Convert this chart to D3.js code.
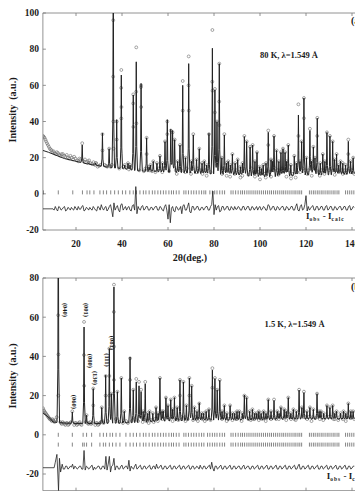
<!DOCTYPE html>
<html><head><meta charset="utf-8">
<script src="https://cdn.jsdelivr.net/npm/d3@7"></script>
<style>
body{margin:0;background:#fff;}
svg{display:block;}
text{font-family:"Liberation Serif","DejaVu Serif",serif;font-weight:bold;fill:#1a1a1a;}
</style>
</head><body><svg id="c" width="355" height="491"></svg>
<script>
// ---------------- DATA ----------------
const xTickVals = [20, 40, 60, 80, 100, 120, 140];
const yTicksTop = [-20, 0, 20, 40, 60, 80, 100];
const yTicksBot = [-20, 0, 20, 40, 60, 80];

// (a) 80 K : calculated background [2θ, I]
const bgTop = [[5.6,24],[8,23],[10,22],[15,19.5],[20,18],[25,16.5],[30,15.5],[35,14.5],[40,14],[45,13],[50,12.5],[60,12],[70,11.5],[80,11],[90,10.5],[100,9.5],[110,9.5],[120,10.5],[130,10.5],[141,11]];
// (a) peaks [2θ, I calc, I obs]
const peaksTop = [[22.7,27,28],[25.5,17,17],[28.5,17,17],[31.5,33.5,33],[34.4,25,25],[36.2,130,96],[37.7,41,40],[39.7,65.7,68.5],[41.2,16,16],[42.6,17,17],[43.5,16,16],[44.9,54.7,55],[46.2,73,81],[48.3,61,60],[50.7,31,31],[51.8,15,15],[52.4,16,16],[53.6,18,18],[55.2,17,17],[56.5,21,21],[57.6,17,17],[58.7,29,29],[59.7,41,40],[61.2,35.7,35],[62,35,34],[62.9,30,30],[64.2,18,18],[65.2,27,27],[66.4,60,62.4],[67.6,20,20],[69,72,76],[70.2,18,18],[71,32.6,33],[72.4,19,19],[73.6,25,25],[74.8,17,17],[75.8,18,18],[76.8,16,16],[77.8,33.5,33],[79.3,80.5,90.6],[80.4,57.5,58],[81.3,40,40],[82.3,72,72],[83.4,20,20],[84.5,32.6,33],[85.4,17,17],[86.2,18,18],[87.1,16,16],[88,22,22],[89.2,17,17],[90.3,19,19],[91.5,15,15],[92.4,17,17],[93.2,31.7,32],[94.2,29,29],[95.7,26,26],[96.8,27,27],[97.8,18,18],[98.7,23,23],[99.8,15,15],[100.6,14,14],[101.4,16,16],[102.6,17,17],[103.6,34,35],[104.8,19,19],[105.4,18,18],[106.1,32,32],[107.2,24,24],[108.2,18,18],[109.1,23,23],[110,25,25],[110.9,23,23],[111.6,18,18],[112.3,27,27],[113.4,16,16],[114.9,21,21],[115.8,17,17],[116.7,43.6,49.5],[117.4,18,18],[118.1,29,29],[119.1,53,53],[120.2,20,20],[121.7,35,36],[122.4,18,18],[123.2,26,26],[123.9,20,20],[124.9,41.8,42],[126.2,17,17],[127.3,22,22],[128.2,18,18],[129.1,34,34],[130.4,32,32],[131.6,29,29],[132.4,19,19],[133.3,22,22],[134.2,16,16],[135,18,18],[136,17,17],[137.2,16,16],[138.4,29,30],[139.4,18,18],[140.5,20,20]];
// (a) observed background points [2θ, I]
const obsBgTop = [[5.7,32],[6,31.5],[6.3,31],[6.7,30],[7,29],[7.4,28],[7.8,27],[8.2,26],[8.6,25],[9,24.5],[9.4,24],[9.8,23],[10.3,23.5],[10.7,22.5],[11.2,22],[11.7,23],[12.2,22.5],[12.7,21.5],[13.2,21],[13.7,22],[14.3,22],[14.8,21],[15.4,20.5],[16,21.5],[16.5,20],[17,19.5],[17.6,21],[18.1,20],[18.7,19],[19.2,20.5],[19.8,19.5],[20.4,18.5],[21,18],[21.5,19.5],[22,19],[23.3,18],[23.9,19],[24.5,17.5],[25.1,18],[25.7,18.5],[26.3,17],[27,16.5],[27.6,17.5],[28.2,16],[28.8,17],[29.4,15],[30,15.5],[30.6,16],[32.5,16],[33,15.5],[33.6,15],[35,15],[35.6,16],[38.8,14],[40.5,15],[41.5,14.5],[43,13.5],[44,14.5],[47.5,13],[49.5,12.5],[50.2,14],[51.3,13],[52,13],[53,12.5],[54.5,12],[55.5,13],[56,14],[57.5,12],[58.2,14],[60.5,12.5],[63.4,13],[63.8,11],[64.7,14],[65.8,13],[67.5,12],[68.2,14],[70,11],[70.6,14],[72.3,12],[73,14],[74.3,13],[75,11],[76.2,13],[76.8,10],[77.3,14],[78.5,12],[83.5,11],[84,14],[85,13],[85.5,10],[86.7,13],[87,9.5],[87.6,14],[89,11],[89.7,13],[90.8,12],[91.5,9],[92,12],[92.3,10],[92.8,14],[95,10.5],[96.3,14],[97.3,12],[97.8,9.5],[98.2,12],[99.3,12],[100,8],[100.3,11],[101,12],[101.9,11],[102.5,9],[103.1,13],[104.3,12],[104.8,9.5],[105.8,13],[106.6,14],[107.7,13],[108,10.5],[108.7,13],[109.6,14],[110.5,13],[111.5,9.5],[112.8,13],[113.5,8.5],[114.2,11],[115.5,9],[116.2,12],[117.5,12],[118.6,14],[119.7,13],[120.5,11],[121,13],[122.5,10],[123.6,14],[124.4,13],[125.5,12],[126,10],[126.7,13],[127.8,13],[128,11],[128.6,14],[130,13],[131,14],[132,13],[132.5,10.5],[132.9,13],[133.8,13],[134.5,12],[135.5,13],[136,11],[136.6,13],[137.5,11.5],[137.9,13],[138.9,14],[139.5,12],[140,13],[141,11]];
// (a) observed points on peak flanks [2θ, I]
const obsFlankTop = [[36.15,64.8],[36.25,40],[36.3,25],[39.65,58.6],[39.75,48],[39.7,41.7],[44.85,50],[44.95,37],[46.15,56.5],[46.25,39],[48.25,59],[48.35,48],[59.7,33],[66.4,46],[68.95,60],[69.05,46],[79.25,62],[79.35,57],[80.4,45],[82.25,51],[82.35,38],[116.7,32],[119.1,41.8],[124.9,32],[103.6,27],[138.4,22],[37.7,30],[31.5,24],[50.7,22]];
// (a) Bragg positions
const braggTop = [5.8,12.3,18.6,22.8,24.8,26,27.8,30.4,31.9,33.3,35.1,36.8,38.4,40.2,41.6,43.4,44.9,46.3,47.8,49.3,50.4,51.8,53.2,54.3,55.6,56.8,58,59.1,60.4,61.5,62.4,63.6,64.8,66.9,67.8,68.9,70.1,71.2,72.3,73.5,74.6,75.6,76.4,78.2,79.3,80.3,81.3,82.5,83.6,84.6,87.4,88.3,89.4,90.5,91.6,92.4,93.3,94.3,95.2,96.1,97,97.9,98.8,99.7,100.6,101.5,102.4,103.3,104.2,105,105.9,106.8,107.7,108.6,109.5,110.3,111.2,112.1,113,113.9,114.8,115.6,116.5,117.3,118.1,121.5,122.3,123.2,124,124.9,125.7,126.6,127.4,128.3,129.2,130,130.9,131.8,132.6,133.5,134.3,137.2,138.1,139,139.9,140.8];
// (a) difference curve [2θ, Iobs-Icalc (offset)]
const diffTop = [[5.6,-8.3],[10,-8.3],[10.5,-9],[11,-7],[11.5,-8.5],[12,-9.5],[12.5,-7],[13,-7.5],[13.5,-9],[14,-8.5],[14.5,-7.5],[15,-7],[15.5,-9.5],[16,-9],[16.5,-7.5],[17,-8],[17.5,-9],[18,-7.5],[18.5,-8.5],[19,-9],[19.5,-7],[20,-8],[20.5,-9],[21,-7],[21.5,-8.5],[22,-8.5],[22.5,-7],[23,-6.5],[23.5,-9.5],[24,-9],[24.5,-7.5],[25,-8],[25.5,-9],[26,-7.5],[26.5,-8.5],[27,-9],[27.5,-7],[28,-8],[28.5,-9],[29,-9.5],[29.5,-7],[30,-7.5],[30.5,-9],[31,-6],[31.5,-8],[32,-9],[32.5,-7.5],[33,-7],[33.5,-9.5],[34,-8.5],[34.5,-7],[35,-6],[35.5,-9],[36,-12.7],[36.5,-5],[37,-9],[37.5,-7.5],[38,-6.5],[38.5,-9],[39,-10],[39.5,-6],[40,-5.5],[40.5,-9],[41,-8],[41.5,-7],[42,-9],[42.5,-7.5],[43,-7],[43.5,-9],[44,-9.5],[44.5,-6.5],[45,-6],[45.5,-9],[46,4],[46.5,-11],[47,-7],[47.5,-8.5],[48,-9],[48.5,-7],[49,-6.5],[49.5,-9],[50,-8.5],[50.5,-7],[51,-7],[51.5,-9],[52,-9],[52.5,-7.5],[53,-7.5],[53.5,-9],[54,-8],[54.5,-7],[55,-7],[55.5,-9],[56,-9],[56.5,-7],[57,-7.5],[57.5,-9],[58,-9.5],[58.5,-7],[59,-6],[59.5,-9],[60,-14],[60.5,-6],[61,-16],[61.5,-8],[62,-7],[62.5,-9.5],[63,-10],[63.5,-7],[64,-7.5],[64.5,-9],[65,-8.5],[65.5,-7],[66,-11],[66.5,-6.5],[67,-6],[67.5,-9],[68,-9],[68.5,-7],[69,-5],[69.5,-10],[70,-10.5],[70.5,-7],[71,-7],[71.5,-9],[72,-8.5],[72.5,-7],[73,-7],[73.5,-9],[74,-9],[74.5,-7.5],[75,-7.5],[75.5,-9],[76,-8],[76.5,-7],[77,-7],[77.5,-9],[78,-9],[78.5,-7],[79,-6],[79.5,1.5],[80,-11.5],[80.5,-6],[81,-9],[81.5,-7],[82,-6.5],[82.5,-10],[83,-9.5],[83.5,-7],[84,-7],[84.5,-9],[85,-8.5],[85.5,-7],[86,-7],[86.5,-9],[87,-9],[87.5,-7],[88,-8],[88.5,-9],[89,-7],[89.5,-8.5],[90,-8.5],[90.5,-7],[91,-7.5],[91.5,-9],[92,-9],[92.5,-7],[93,-7],[93.5,-9],[94,-8.5],[94.5,-7],[95,-7],[95.5,-9],[96,-9],[96.5,-7],[97,-7.5],[97.5,-9],[98,-8],[98.5,-7],[99,-9],[99.5,-7.5],[100,-7],[100.5,-9],[101,-8.5],[101.5,-7],[102,-7.5],[102.5,-9],[103,-9],[103.5,-6],[104,-6.5],[104.5,-9],[105,-8.5],[105.5,-7],[106,-7],[106.5,-9],[107,-9],[107.5,-7],[108,-7.5],[108.5,-9],[109,-8],[109.5,-7],[110,-7],[110.5,-9],[111,-9],[111.5,-7],[112,-7.5],[112.5,-9],[113,-8.5],[113.5,-7],[114,-7],[114.5,-9],[115,-9],[115.5,-7],[116,-5.5],[116.5,-9],[117,-9.5],[117.5,-7],[118,-6],[118.5,-9],[119,-8.5],[119.5,-6],[120,-1],[120.5,-9.5],[121,-7],[121.5,-9],[122,-8],[122.5,-7],[123,-6.5],[123.5,-9],[124,-9],[124.5,-7],[125,-7],[125.5,-9],[126,-8.5],[126.5,-7],[127,-7],[127.5,-9],[128,-9],[128.5,-7],[129,-6.5],[129.5,-9],[130,-8.5],[130.5,-7],[131,-7],[131.5,-9],[132,-9],[132.5,-7],[133,-7.5],[133.5,-9],[134,-8],[134.5,-7],[135,-7],[135.5,-9],[136,-8.5],[136.5,-7],[137,-7],[137.5,-9],[138,-9],[138.5,-7],[139,-6.5],[139.5,-9],[140,-8.5],[140.5,-7],[141,-7.5]];

// (b) 1.5 K
const bgBot = [[5.6,11],[7,10],[9,8],[10,6.5],[15,6],[20,5.8],[30,5.8],[40,6],[50,6.5],[60,7],[70,7.5],[80,7.5],[90,7.5],[100,7.5],[110,8],[120,8],[130,8],[141,8]];
const peaksBot = [[12.3,130,130],[18.4,11.7,12],[23.5,55,57.6],[24.6,10,10],[27.5,23.6,23.6],[31.2,14,14],[32.9,30.4,30],[34.5,44,44],[35.4,21,21],[36.5,75.4,76.6],[38,22,22],[39.7,29,29],[41,12,12],[43.5,39.7,39],[44.9,23,23],[46.2,27,28.5],[47.4,25,27],[48.3,22,23],[49.2,12,12],[50.1,26,27],[51.2,11,11],[52,12,12],[53.4,11,11],[54.8,14,14],[55.7,11,11],[56.5,29,29],[57.4,12,12],[58,12,12],[59.1,19,19],[60,15,15],[61.2,18,18],[62,13,13],[62.8,19,19],[64,14,14],[65.2,28,28],[66.7,27,27],[68,15,15],[69.3,29,29],[70.3,25,25],[71.5,14,14],[72.6,12,12],[73.6,16.3,16],[74.6,11,11],[75.5,11,11],[76.6,12,12],[77.8,13,13],[79.3,33,34],[80.4,28.7,29],[81.4,23,23],[82.5,27.8,28],[83.5,12,12],[84.5,15,15],[85.6,11,11],[87,15,15],[88,11,11],[89,11,11],[90,12,12],[91,12,12],[92.3,11,11],[93.2,20.3,20],[94.2,19,19],[95.5,12,12],[96.7,13,13],[97.7,11,11],[98.6,11,11],[99.5,12,12],[100.5,11,11],[101.6,12,12],[102.6,11,11],[103.6,18,18],[104.8,12,12],[106.1,17.5,18],[107.5,12,12],[108.3,11,11],[109.1,14,14],[110.5,13,13],[111.4,12,12],[112.3,19,19],[113.4,11,11],[114.5,13,13],[115.8,12,12],[117,22.8,23],[118.2,14,14],[119.1,21.5,22],[120.4,12,12],[121.7,14,14],[123.2,13,13],[124.8,21,21],[125.7,12,12],[126.5,12,12],[127.7,11,11],[129.1,15,15],[130.4,14,14],[131.6,15,15],[132.5,11,11],[133.3,12,12],[135,11,11],[136.3,12,12],[137.3,11,11],[138.4,16,16],[139.5,12,12],[140.5,12,12]];
const obsBgBot = [[5.7,13.5],[6,12.5],[6.2,12],[6.5,11.5],[6.8,11],[7.1,10.5],[7.4,10],[7.7,9.5],[8,9],[8.3,8.5],[8.6,8],[8.9,8],[9.2,7.5],[9.5,7],[9.8,8],[10.1,7.5],[10.4,7],[10.7,6.5],[11,7.5],[11.6,9],[13.2,6.5],[13.5,6],[13.8,5.5],[14.2,6.5],[14.6,6],[15,5.5],[15.4,5],[15.8,6],[16.2,6],[16.6,5],[17,5.5],[17.4,6],[17.8,6.5],[19.2,5],[19.6,6],[20,6],[20.4,5],[20.8,5.5],[21.2,6],[21.6,6.5],[22,5.5],[22.4,5],[24.2,6.5],[25,6],[25.4,5.5],[25.8,6],[26.2,6.5],[26.6,5.5],[27,6],[28.4,5],[28.8,6],[29.2,6],[29.6,5],[30,5.5],[30.4,6],[30.8,6.5],[31.6,7],[32,6],[33.8,7],[37.4,8],[38.8,6.5],[40.4,6],[41.8,7],[42.6,6],[44.2,7],[45.6,8],[47,7],[49,6.5],[49.6,8],[50.6,7],[51,7],[51.6,6],[52.6,7.5],[53.8,6.5],[54.3,8],[55.2,8],[55.6,7],[57.5,8],[58.6,8],[60.6,8],[61.7,9],[62,7],[63.4,8],[64.5,7.5],[65.8,9],[66,8],[67.3,9],[67.6,7],[68.6,8],[70.9,7.5],[71.9,9],[72.3,8],[73,7],[74.1,9],[74.5,8.5],[75,8],[76,7],[77,8],[78.5,7.5],[83.5,8],[84,9],[85.1,9],[85.5,7],[86.2,8],[88,7.5],[88.5,9],[89.5,8],[90,8],[90.5,9],[92,7],[92.7,9],[95,8],[96,7.5],[96.2,9],[97.2,8],[97.6,8],[99,9],[99.5,7.5],[100,9],[101,8],[101.5,8.5],[102.5,7],[103,9],[104.3,9],[104.8,8],[105.4,9],[106.6,9],[107,8],[108.2,8],[108.7,9],[110,8.5],[111,9],[111.4,7.5],[112.8,9],[113.5,8],[114,9],[115,8],[115.5,7.5],[116.2,9],[118.6,9],[119.7,9],[120.5,8],[121,9],[122.4,7],[122.8,9],[124,8.5],[125.3,9],[126,8],[127,9],[127.5,7.5],[128.3,9],[129.7,9],[131,9],[132,8],[132.5,8],[134,7.5],[134.5,9],[135.6,9],[136,8],[136.8,9],[137.3,7],[137.9,9],[139,9],[139.5,8.5],[140,9],[141,8]];
const obsFlankBot = [[12.25,61],[12.35,41],[12.3,20],[23.45,40.7],[23.55,25],[36.45,62.7],[36.55,45],[36.5,28],[34.5,30],[34.45,20],[43.5,28],[32.9,20],[65.2,20],[69.3,20],[79.3,24],[27.5,15]];
const braggBotNuc = [12.3,18.4,23.1,24.6,26.8,30.4,31.9,33.3,34.8,35.9,37.4,39.1,41.7,43.5,44.9,46.3,47.8,49.3,50.4,51.8,53.2,54.3,55.6,56.8,58,59.1,60.4,61.5,62.4,63.6,64.8,66.9,67.8,68.9,70.1,71.2,72.3,73.5,74.6,75.6,77.2,78.2,79.3,80.3,81.3,82.5,83.6,84.6,87.4,88.3,89.4,90.5,91.6,92.4,93.3,94.3,95.2,96.1,97,97.9,98.8,99.7,100.6,101.5,102.4,103.3,104.2,105,105.9,106.8,107.7,108.6,109.5,110.3,111.2,112.1,113,113.9,114.8,115.6,116.5,117.3,118.1,121.5,122.3,123.2,124,124.9,125.7,126.6,127.4,128.3,129.2,130,130.9,131.8,132.6,133.5,134.3,137.2,138.1,139,139.9,140.8];
const braggBotMag = [12.3,18.4,22.9,23.6,24.6,26.8,30.4,31.9,32.9,34.5,35.9,37.4,39.1,41.7,43.5,44.9,46.3,47.8,49.3,50.4,51.8,53.2,54.3,55.6,56.8,58,59.1,60.4,61.5,62.4,63.6,64.8,66.9,67.8,68.9,70.1,71.2,72.3,73.5,74.6,75.6,77.2,78.2,79.3,80.3,81.3,82.5,83.6,84.6,87.4,88.3,89.4,90.5,91.6,92.4,93.3,94.3,95.2,96.1,97,97.9,98.8,99.7,100.6,101.5,102.4,103.3,104.2,105,105.9,106.8,107.7,108.6,109.5,110.3,111.2,112.1,113,113.9,114.8,115.6,116.5,117.3,118.1,121.5,122.3,123.2,124,124.9,125.7,126.6,127.4,128.3,129.2,130,130.9,131.8,132.6,133.5,134.3,137.2,138.1,139,139.9,140.8];
const diffBot = [[5.6,-16.8],[10.5,-16.8],[11,-14],[11.7,-10],[12.1,-20],[12.4,-28.5],[12.8,-12],[13.3,-19],[14,-15],[14.5,-17.5],[15,-17.5],[15.5,-16],[16,-16],[16.5,-17.5],[17,-17],[17.5,-16],[18,-16.5],[18.5,-15],[19,-17.5],[19.5,-16],[20,-16.5],[20.5,-17.5],[21,-17],[21.5,-16],[22,-16],[22.5,-17.5],[23,-17.5],[23.5,-8],[24,-18],[24.5,-16],[25,-16.5],[25.5,-17.5],[26,-17],[26.5,-16],[27,-15.5],[27.5,-18],[28,-16.5],[28.5,-17.5],[29,-17],[29.5,-16],[30,-16],[30.5,-17.5],[31,-17.5],[31.5,-16],[32,-16],[32.5,-17.5],[33,-11],[33.5,-18],[34,-15],[34.5,-11],[35,-19],[35.5,-16],[36,-15.5],[36.5,-12],[37,-18],[37.5,-16],[38,-16],[38.5,-17.5],[39,-17.5],[39.5,-16],[40,-15.5],[40.5,-17.5],[41,-17],[41.5,-16],[42,-16],[42.5,-17.5],[43,-13],[43.5,-18.5],[44,-16],[44.5,-17],[45,-17.5],[45.5,-16],[46,-15],[46.5,-17.5],[47,-17],[47.5,-16],[48,-15.5],[48.5,-17.5],[49,-17.5],[49.5,-16],[50,-16],[50.5,-17.5],[51,-17],[51.5,-16],[52,-15.5],[52.5,-17.5],[53,-17.5],[53.5,-16],[54,-16],[54.5,-17.5],[55,-15],[55.5,-17],[56,-17],[56.5,-16],[57,-15.5],[57.5,-17.5],[58,-17.5],[58.5,-16],[59,-16],[59.5,-17.5],[60,-17],[60.5,-16],[61,-15.5],[61.5,-17.5],[62,-17.5],[62.5,-16],[63,-16],[63.5,-17.5],[64,-17],[64.5,-16],[65,-15.5],[65.5,-17.5],[66,-17.5],[66.5,-16],[67,-16],[67.5,-17.5],[68,-17],[68.5,-16],[69,-15.5],[69.5,-17.5],[70,-17.5],[70.5,-16],[71,-16],[71.5,-17.5],[72,-17],[72.5,-16],[73,-16.5],[73.5,-17.5],[74,-15.5],[74.5,-17],[75,-17.5],[75.5,-16],[76,-16],[76.5,-17.5],[77,-17],[77.5,-16],[78,-15.5],[78.5,-17.5],[79,-14],[79.5,-17],[80,-18.5],[80.5,-16],[81,-16],[81.5,-17.5],[82,-17],[82.5,-16],[83,-15.5],[83.5,-17.5],[84,-17.5],[84.5,-16],[85,-16],[85.5,-17.5],[86,-17],[86.5,-16],[87,-15.5],[87.5,-17.5],[88,-17.5],[88.5,-16],[89,-16],[89.5,-17.5],[90,-17],[90.5,-16],[91,-16],[91.5,-17.5],[92,-17.5],[92.5,-16],[93,-15.5],[93.5,-17.5],[94,-17],[94.5,-16],[95,-16],[95.5,-17.5],[96,-17.5],[96.5,-16],[97,-16],[97.5,-17.5],[98,-17],[98.5,-16],[99,-15.5],[99.5,-17.5],[100,-17.5],[100.5,-16],[101,-16],[101.5,-17.5],[102,-17],[102.5,-16],[103,-15.5],[103.5,-17.5],[104,-17.5],[104.5,-16],[105,-16],[105.5,-17.5],[106,-17],[106.5,-16],[107,-15.5],[107.5,-17.5],[108,-17.5],[108.5,-16],[109,-16],[109.5,-17.5],[110,-17],[110.5,-16],[111,-15.5],[111.5,-17.5],[112,-17.5],[112.5,-16],[113,-16],[113.5,-17.5],[114,-17],[114.5,-16],[115,-15.5],[115.5,-17.5],[116,-17.5],[116.5,-16],[117,-15],[117.5,-17.5],[118,-17.5],[118.5,-16],[119,-16],[119.5,-17.5],[120,-17],[120.5,-16],[121,-15.5],[121.5,-17.5],[122,-17.5],[122.5,-16],[123,-16],[123.5,-17.5],[124,-17],[124.5,-16],[125,-15.5],[125.5,-17.5],[126,-17.5],[126.5,-16],[127,-16],[127.5,-17.5],[128,-17],[128.5,-16],[129,-15.5],[129.5,-17.5],[130,-17.5],[130.5,-16],[131,-16],[131.5,-17.5],[132,-17],[132.5,-16],[133,-15.5],[133.5,-17.5],[134,-17.5],[134.5,-16],[135,-16],[135.5,-17.5],[136,-17],[136.5,-16],[137,-15.5],[137.5,-17.5],[138,-17.5],[138.5,-16],[139,-16],[139.5,-17.5],[140,-17],[140.5,-16],[141,-16]];
// (b) peak labels [2θ, I, text]
const peakLabelsBot = [[14.4,63.7,"(040)"],[18.3,16.8,"(060)"],[23.6,63.7,"(001)"],[25.3,37.7,"(080)"],[27.4,29,"(130)"],[32.8,38.2,"(111)"],[34.7,46.9,"(081)"]];

// ---------------- DRAW ----------------
const svg = d3.select('#c');
const x = d3.scaleLinear().domain([0, 140]).range([30, 352]);
const xMin = 5.6, xMaxFrame = 150;
const shapeOff = [-0.55, -0.2, 0, 0.2, 0.55];

function peakContribution(t, p, amp) {
  const d = Math.abs(t - p);
  if (d >= 0.55) return 0;
  if (d <= 0.2) return amp * (1 - 0.78 * d / 0.2);
  return amp * 0.22 * (0.55 - d) / 0.35;
}

function drawPanel(cfg) {
  const y = d3.scaleLinear().domain(cfg.yDomain).range(cfg.yRange);
  const top = y(cfg.frameTop), bot = y(cfg.frameBot);
  const left = x(xMin), right = x(xMaxFrame);
  const g = svg.append('g');
  svg.append('clipPath').attr('id', 'clip' + cfg.id)
    .append('rect').attr('x', left).attr('y', top).attr('width', right - left).attr('height', bot - top);

  g.append('path').attr('d', `M${right},${top}H${left}V${bot}H${right}`)
    .attr('fill', 'none').attr('stroke', '#777').attr('stroke-width', 0.8);
  xTickVals.forEach(v => {
    g.append('line').attr('x1', x(v)).attr('x2', x(v)).attr('y1', bot).attr('y2', bot - 3).attr('stroke', '#777').attr('stroke-width', 0.8);
    g.append('line').attr('x1', x(v)).attr('x2', x(v)).attr('y1', top).attr('y2', top + 3).attr('stroke', '#777').attr('stroke-width', 0.8);
    if (cfg.xLabels) g.append('text').attr('x', x(v)).attr('y', bot + 17).attr('text-anchor', 'middle').attr('font-size', 9.5).text(v);
  });
  cfg.yTicks.forEach(v => {
    g.append('line').attr('x1', left).attr('x2', left + 3).attr('y1', y(v)).attr('y2', y(v)).attr('stroke', '#777').attr('stroke-width', 0.8);
    g.append('text').attr('x', left - 4).attr('y', y(v) + 3.3).attr('text-anchor', 'end').attr('font-size', 9.5).text(v);
  });
  g.append('text').attr('transform', `translate(${cfg.yTitleX},${cfg.yTitleY}) rotate(-90)`)
    .attr('text-anchor', 'middle').attr('font-size', 10).attr('xml:space', 'preserve').text('Intensity  (a.u.)');

  const plot = svg.append('g').attr('clip-path', `url(#clip${cfg.id})`);
  const bgScale = d3.scaleLinear().domain(cfg.bg.map(d => d[0])).range(cfg.bg.map(d => d[1])).clamp(true);

  let ts = cfg.bg.map(d => d[0]);
  cfg.peaks.forEach(p => shapeOff.forEach(o => ts.push(p[0] + o)));
  ts = Array.from(new Set(ts.map(t => +t.toFixed(3)))).filter(t => t >= xMin).sort((a, b) => a - b);
  const calc = ts.map(t => {
    let v = bgScale(t);
    cfg.peaks.forEach(p => { v += peakContribution(t, p[0], p[1] - bgScale(p[0])); });
    return [t, v];
  });

  const line = d3.line().x(d => x(d[0])).y(d => y(d[1]));

  const obs = cfg.obsBg.concat(cfg.obsFlank, cfg.peaks.map(p => [p[0], p[2]])).filter(d => d[0] >= xMin && d[1] < cfg.frameTop);
  plot.append('g').selectAll('circle').data(obs).join('circle')
    .attr('cx', d => x(d[0])).attr('cy', d => y(d[1])).attr('r', 1.45)
    .attr('fill', 'none').attr('stroke', '#6a6a6a').attr('stroke-width', 0.6);

  plot.append('path').datum(calc).attr('d', line).attr('fill', 'none').attr('stroke', '#222').attr('stroke-width', 1);

  cfg.bragg.forEach(row => {
    plot.append('g').selectAll('line').data(row.pos).join('line')
      .attr('x1', d => x(d)).attr('x2', d => x(d))
      .attr('y1', y(row.level) - 2).attr('y2', y(row.level) + 2)
      .attr('stroke', '#333').attr('stroke-width', 0.6);
  });

  plot.append('path').datum(cfg.diff).attr('d', line).attr('fill', 'none').attr('stroke', '#222').attr('stroke-width', 0.8);

  (cfg.peakLabels || []).forEach(l => {
    plot.append('text').attr('transform', `translate(${x(l[0])},${y(l[1])}) rotate(90)`)
      .attr('text-anchor', 'middle').attr('font-size', 6.5).attr('font-weight', 'normal').text(l[2]);
  });

  svg.append('text').attr('x', x(cfg.condPos[0])).attr('y', y(cfg.condPos[1])).attr('font-size', 8.5).text(cfg.cond);
  const dl = svg.append('text').attr('x', x(cfg.diffLabelPos[0])).attr('y', y(cfg.diffLabelPos[1])).attr('font-size', 9).attr('font-weight', 'normal');
  dl.append('tspan').text('I');
  dl.append('tspan').attr('font-size', 5.5).attr('dy', 2).attr('letter-spacing', 1).text('obs');
  dl.append('tspan').attr('dy', -2).text(' - I');
  dl.append('tspan').attr('font-size', 5.5).attr('dy', 2).attr('letter-spacing', 1).text('calc');
  svg.append('text').attr('x', 351).attr('y', cfg.tagY).attr('font-size', 10).text(cfg.tag);
}

drawPanel({
  id: 'a', yDomain: [-20, 100], yRange: [230, 13], frameTop: 100, frameBot: -20,
  yTicks: yTicksTop, xLabels: true, yTitleX: 16, yTitleY: 110,
  bg: bgTop, peaks: peaksTop, obsBg: obsBgTop, obsFlank: obsFlankTop, diff: diffTop,
  bragg: [{ level: 0.8, pos: braggTop }],
  cond: '80 K, λ=1.549 Å', condPos: [100, 75], diffLabelPos: [120, -13.8], tag: '(a)', tagY: 24
});
drawPanel({
  id: 'b', yDomain: [-20, 80], yRange: [474, 278], frameTop: 80, frameBot: -28.5,
  yTicks: yTicksBot, xLabels: false, yTitleX: 16, yTitleY: 376,
  bg: bgBot, peaks: peaksBot, obsBg: obsBgBot, obsFlank: obsFlankBot, diff: diffBot,
  bragg: [{ level: 0, pos: braggBotNuc }, { level: -5, pos: braggBotMag }],
  cond: '1.5 K, λ=1.549 Å', condPos: [102, 55], diffLabelPos: [129, -22.8], tag: '(b)', tagY: 290,
  peakLabels: peakLabelsBot
});
svg.append('text').attr('x', 190).attr('y', 261).attr('text-anchor', 'middle').attr('font-size', 10).text('2θ(deg.)');
</script></body></html>
